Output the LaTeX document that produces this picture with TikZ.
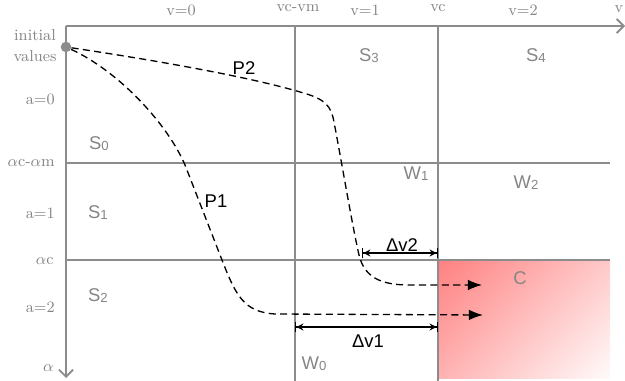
\documentclass[tikz,border=0pt]{standalone}
\usepackage{fontspec}
\setsansfont{Liberation Sans}
\usetikzlibrary{arrows.meta,positioning}
\definecolor{axisgray}{HTML}{8C8C8C}
\definecolor{labelgray}{HTML}{858585}
\definecolor{hotred}{HTML}{FF6E6E}
\pgfdeclareverticalshading{zonefade}{100bp}{color(0bp)=(white); color(12bp)=(white); color(96bp)=(hotred); color(100bp)=(hotred)}
\newcommand{\idx}[1]{\raisebox{-0.6pt}{\fontsize{7.5}{8}\selectfont #1}}

\begin{document}
\begin{tikzpicture}[x=0.02cm, y=-0.02cm,
  axisline/.style={draw=axisgray, line width=1.1pt,
    -{Straight Barb[length=4pt,width=8pt]}},
  gridline/.style={draw=axisgray, line width=0.9pt},
  ticklabel/.style={font=\fontsize{9}{12}\selectfont, text=labelgray,
    inner sep=0pt},
  region/.style={font=\sffamily\fontsize{10.5}{12}\selectfont,
    text=labelgray, inner sep=0pt},
  plabel/.style={font=\sffamily\fontsize{10.5}{12}\selectfont, inner sep=0pt},
  route/.style={dash pattern=on 4pt off 2.5pt, line width=0.75pt,
    -{Latex[length=8pt,width=6pt]}},
  gap/.style={line width=0.8pt,
    {Bar[width=6pt]Stealth[length=4pt,width=4pt]}-{Stealth[length=4pt,width=4pt]Bar[width=6pt]}},
]
\useasboundingbox (0,0) rectangle (625,381);

% crash zone
\shade[shading=zonefade, shading angle=45] (438,260) rectangle (610,378);

% axes and grid
\coordinate (orig) at (66,26);
\coordinate (vend) at (625,26);
\coordinate (aend) at (66,378);
\draw[axisline] (orig) -- (vend);
\draw[axisline] (orig) -- (aend);

\coordinate (m1) at (66,163);
\coordinate (m1e) at (610,163);
\coordinate (c1) at (66,260);
\coordinate (c1e) at (610,260);
\coordinate (vm) at (295,26);
\coordinate (vme) at (295,381);
\coordinate (vc) at (438,26);
\coordinate (vce) at (438,381);
\draw[gridline] (m1) -- (m1e);
\draw[gridline] (c1) -- (c1e);
\draw[gridline] (vm) -- (vme);
\draw[gridline] (vc) -- (vce);

% labels on the v axis
\node[ticklabel] (v0) at (181,10) {v=0};
\node[ticklabel] (vcvm) at (298,8) {vc-vm};
\node[ticklabel] (v1) at (365,10) {v=1};
\node[ticklabel] (vcl) at (438,8) {vc};
\node[ticklabel] (v2) at (523,10) {v=2};
\node[ticklabel] (vax) at (619,9) {v};

% labels on the alpha axis
\node[ticklabel, align=center] (init-l) at (35,46) {initial\\values};
\node[ticklabel, anchor=east] (a0) at (55,99) {a=0};
\node[ticklabel, anchor=east] (acam) at (55,163) {$\alpha$c-$\alpha$m};
\node[ticklabel, anchor=east] (a1) at (55,213) {a=1};
\node[ticklabel, anchor=east] (ac) at (54,261) {$\alpha$c};
\node[ticklabel, anchor=east] (a2) at (55,307) {a=2};
\node[ticklabel, anchor=east] (al) at (54,368) {$\alpha$};

% regions
\node[region] (s0) at (99,144) {S\idx{0}};
\node[region] (s1) at (98,213) {S\idx{1}};
\node[region] (s2) at (98,296) {S\idx{2}};
\node[region] (s3) at (369,56) {S\idx{3}};
\node[region] (s4) at (536,56) {S\idx{4}};
\node[region] (w0) at (314,364) {W\idx{0}};
\node[region] (w1) at (416,174) {W\idx{1}};
\node[region] (w2) at (526,183) {W\idx{2}};
\node[region] (crash) at (520,278) {C};

% trajectories
\node[circle, fill=axisgray, inner sep=0pt, minimum size=6pt] (init) at (66,47) {};
\coordinate (p2end) at (482,285);
\coordinate (p1end) at (483,315);
\draw[route] (init) .. controls (180,64) and (260,80) .. (300,92)
  .. controls (326,99) and (331,106) .. (334,122)
  .. controls (344,175) and (352,224) .. (359,255)
  .. controls (365,280) and (385,285) .. (410,285) -- (p2end);
\draw[route] (init) .. controls (120,72) and (168,125) .. (185,165)
  -- (222,260) .. controls (236,296) and (244,312) .. (275,314) -- (p1end);
\node[plabel] (p2) at (244,68) {P2};
\node[plabel] (p1) at (216,201) {P1};

% velocity gaps
\coordinate (d2a) at (362,253);
\coordinate (d2b) at (438,253);
\coordinate (d1a) at (295,327);
\coordinate (d1b) at (438,327);
\draw[gap] (d2a) -- (d2b);
\draw[gap] (d1a) -- (d1b);
\node[plabel] (dv2) at (402,245) {Δv2};
\node[plabel] (dv1) at (368,341) {Δv1};

\end{tikzpicture}
\end{document}
